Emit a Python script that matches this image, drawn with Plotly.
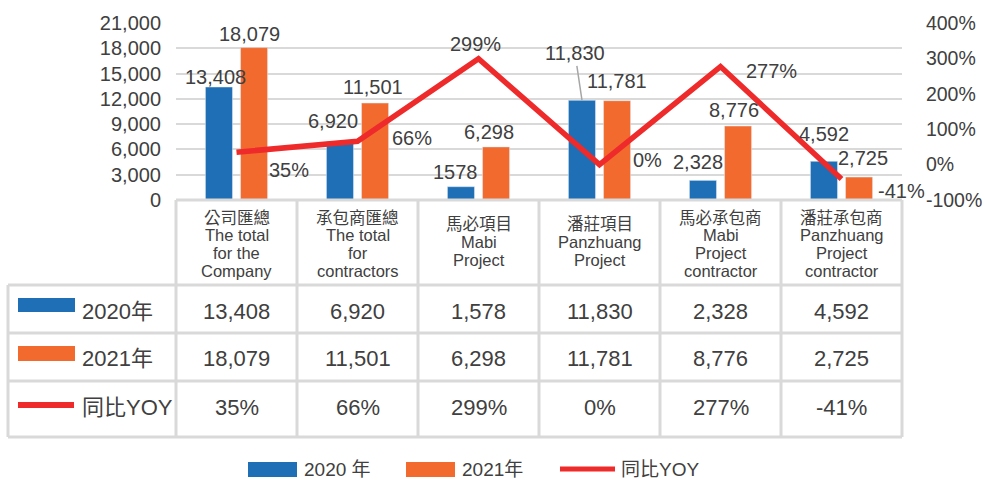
import plotly.graph_objects as go

# ---------------- data ----------------
categories = ["公司匯總", "承包商匯總", "馬必項目", "潘莊項目", "馬必承包商", "潘莊承包商"]
categories_en = [
    ["The total", "for the", "Company"],
    ["The total", "for", "contractors"],
    ["Mabi", "Project"],
    ["Panzhuang", "Project"],
    ["Mabi", "Project", "contractor"],
    ["Panzhuang", "Project", "contractor"],
]
values_2020 = [13408, 6920, 1578, 11830, 2328, 4592]
values_2021 = [18079, 11501, 6298, 11781, 8776, 2725]
yoy_pct = [35, 66, 299, 0, 277, -41]
series_names = ["2020年", "2021年", "同比YOY"]
legend_names = ["2020 年", "2021年", "同比YOY"]
left_ticks = [0, 3000, 6000, 9000, 12000, 15000, 18000, 21000]
right_ticks = [-100, 0, 100, 200, 300, 400]
right_ticktext = [f"{v}%" for v in right_ticks]

# ---------------- style ----------------
BLUE = "#1F6FB6"
ORANGE = "#F26A2E"
RED = "#EE2A2A"
TXT = "#404040"
GRID = "#D9D9D9"
FONT = "Liberation Sans, Arial, Noto Sans CJK TC, sans-serif"

W, H = 985, 480
L, R, T, B = 176, 902, 23, 200


def PX(x):
    return (x - L) / (R - L)


def PY(y):
    return (B - y) / (B - T)


# label nudges (pixels): (dx, dy above bar top)
nudge_2020 = [(-4, 10), (-7, 21), (-6, 15), None, (-5, 18), (0, 27)]
nudge_2021 = [(-5, 14), (-2, 16), (-7, 15), (0, 20), (-4, 16), (4, 19)]
nudge_yoy = [(52, -18), (54, 3), (-3, 15), (48, 5), (51, -4), (60, -12)]
BAR_OFF = 17.5

fig = go.Figure()
fig.add_bar(x=categories, y=values_2020, name=series_names[0], marker_color=BLUE,
            offsetgroup="a")
fig.add_bar(x=categories, y=values_2021, name=series_names[1], marker_color=ORANGE,
            offsetgroup="b")
fig.add_scatter(x=categories, y=yoy_pct, name=series_names[2], yaxis="y2", mode="lines",
                line=dict(color=RED, width=5.5))

ann = []
lab_font = dict(family=FONT, size=20, color=TXT)

for i, c in enumerate(categories):
    v = values_2020[i]
    txt = f"{v:,}" if i != 2 else f"{v}"
    if nudge_2020[i] is None:
        ann.append(dict(x=c, y=v, xref="x", yref="y", xshift=-BAR_OFF, text=txt,
                        showarrow=True, arrowhead=0, arrowwidth=1.5, arrowcolor="#A6A6A6",
                        ax=-7, ay=-47, font=lab_font))
    else:
        dx, dy = nudge_2020[i]
        ann.append(dict(x=c, y=v, xref="x", yref="y", xshift=-BAR_OFF + dx, yshift=dy,
                        text=txt, showarrow=False, font=lab_font))
    v = values_2021[i]
    dx, dy = nudge_2021[i]
    ann.append(dict(x=c, y=v, xref="x", yref="y", xshift=BAR_OFF + dx, yshift=dy,
                    text=f"{v:,}", showarrow=False, font=lab_font))
    p = yoy_pct[i]
    dx, dy = nudge_yoy[i]
    ann.append(dict(x=c, y=p, xref="x", yref="y2", xshift=dx, yshift=dy,
                    text=f"{p}%", showarrow=False, font=lab_font))

# header of table
hdr_font = dict(family=FONT, size=16.5, color=TXT)
for i, c in enumerate(categories):
    lines = [c] + categories_en[i]
    n = len(lines)
    y0 = 217.5 if n == 4 else 224.0
    for k, t in enumerate(lines):
        ann.append(dict(x=c, y=PY(y0 + k * 17.8), xref="x", yref="paper", text=t,
                        showarrow=False, font=hdr_font, xanchor="center", yanchor="middle"))

# table rows
row_centers = [311, 358, 407]
val_font = dict(family=FONT, size=22, color=TXT)
rows = [[f"{v:,}" for v in values_2020], [f"{v:,}" for v in values_2021],
        [f"{p}%" for p in yoy_pct]]
for r, yc in enumerate(row_centers):
    ann.append(dict(x=PX(80), y=PY(yc), xref="paper", yref="paper", text=series_names[r],
                    showarrow=False, font=val_font, xanchor="left", yanchor="middle"))
    for i, c in enumerate(categories):
        ann.append(dict(x=c, y=PY(yc), xref="x", yref="paper", text=rows[r][i],
                        showarrow=False, font=val_font, xanchor="center", yanchor="middle"))

shapes = []
ln = dict(color=GRID, width=3)
# horizontal table lines
shapes.append(dict(type="line", xref="paper", yref="paper", x0=0, x1=1, y0=PY(200), y1=PY(200), line=ln))
for yy in [285, 333, 381, 437]:
    shapes.append(dict(type="line", xref="paper", yref="paper", x0=PX(8), x1=1, y0=PY(yy), y1=PY(yy), line=ln))
# vertical table lines
ncat = len(categories)
for i in range(ncat + 1):
    shapes.append(dict(type="line", xref="paper", yref="paper", x0=i / ncat, x1=i / ncat,
                       y0=PY(200), y1=PY(437), line=ln))
shapes.append(dict(type="line", xref="paper", yref="paper", x0=PX(8), x1=PX(8),
                   y0=PY(285), y1=PY(437), line=ln))

# legend keys inside table
shapes.append(dict(type="rect", xref="paper", yref="paper", x0=PX(18), x1=PX(75), y0=PY(312), y1=PY(298),
                   fillcolor=BLUE, line=dict(width=0)))
shapes.append(dict(type="rect", xref="paper", yref="paper", x0=PX(18), x1=PX(75), y0=PY(361), y1=PY(346),
                   fillcolor=ORANGE, line=dict(width=0)))
shapes.append(dict(type="line", xref="paper", yref="paper", x0=PX(18), x1=PX(74), y0=PY(405), y1=PY(405),
                   line=dict(color=RED, width=6)))

# bottom legend
leg_font = dict(family=FONT, size=19, color=TXT)
ly = 469
shapes.append(dict(type="rect", xref="paper", yref="paper", x0=PX(248), x1=PX(297), y0=PY(477), y1=PY(462),
                   fillcolor=BLUE, line=dict(width=0)))
shapes.append(dict(type="rect", xref="paper", yref="paper", x0=PX(406), x1=PX(455), y0=PY(477), y1=PY(462),
                   fillcolor=ORANGE, line=dict(width=0)))
shapes.append(dict(type="line", xref="paper", yref="paper", x0=PX(560), x1=PX(615), y0=PY(ly), y1=PY(ly),
                   line=dict(color=RED, width=5)))
for xx, t in zip([302, 460, 619], legend_names):
    ann.append(dict(x=PX(xx), y=PY(ly), xref="paper", yref="paper", text=t, showarrow=False,
                    font=leg_font, xanchor="left", yanchor="middle"))

fig.update_layout(
    width=W, height=H,
    margin=dict(l=L, r=W - R, t=T, b=H - B, pad=0),
    paper_bgcolor="white", plot_bgcolor="white",
    barmode="group", bargap=0.42, bargroupgap=0.229,
    showlegend=False,
    font=dict(family=FONT, color=TXT),
    xaxis=dict(showticklabels=False, showgrid=False, zeroline=False, showline=False,
               ticks="", range=[-0.5, 5.5], automargin=False),
    yaxis=dict(range=[0, 21000], tickvals=left_ticks, tickformat=",", showgrid=True,
               gridcolor=GRID, gridwidth=2, zeroline=False, showline=False,
               ticks="outside", ticklen=10, tickcolor="rgba(0,0,0,0)", automargin=False,
               tickfont=dict(family=FONT, size=20, color=TXT)),
    yaxis2=dict(range=[-100, 400], tickmode="array", tickvals=right_ticks,
                ticktext=right_ticktext, overlaying="y", automargin=False,
                side="right", showgrid=False, zeroline=False, showline=False,
                ticks="outside", ticklen=19, tickcolor="rgba(0,0,0,0)",
                tickfont=dict(family=FONT, size=19.5, color=TXT)),
    annotations=ann,
    shapes=shapes,
)

fig.write_html("out.html", config={"displayModeBar": False},
               post_script="document.body.style.margin='0';document.body.style.overflow='hidden';")
